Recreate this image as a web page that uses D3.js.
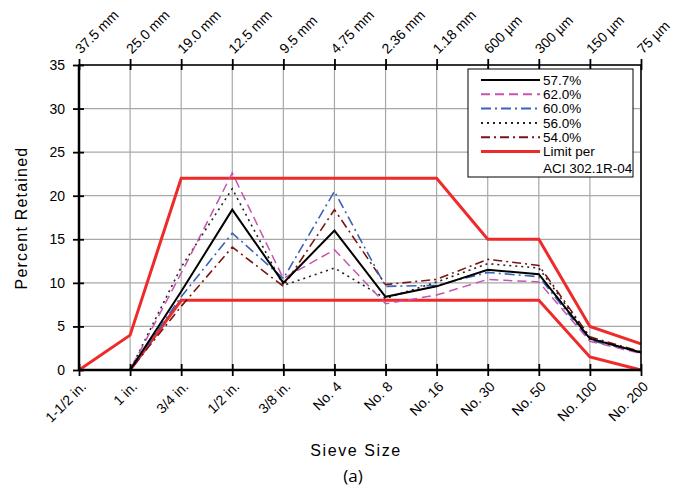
<!DOCTYPE html>
<html><head><meta charset="utf-8">
<script src="https://cdn.jsdelivr.net/npm/d3@7"></script>
<style>body{margin:0;background:#fff}svg{display:block}</style>
</head><body><svg id="c" width="680" height="491"></svg>
<script>
const sieveUS = ["1-1/2 in.","1 in.","3/4 in.","1/2 in.","3/8 in.","No. 4","No. 8","No. 16","No. 30","No. 50","No. 100","No. 200"];
const sieveSI = ["37.5 mm","25.0 mm","19.0 mm","12.5 mm","9.5 mm","4.75 mm","2.36 mm","1.18 mm","600 µm","300 µm","150 µm","75 µm"];
const yTicks = [0,5,10,15,20,25,30,35];
const s577 = [0,0,9.0,18.4,10.0,16.0,8.4,9.6,11.5,11.0,3.6,2.0];
const s620 = [0,0,11.1,22.6,10.5,13.8,7.6,8.6,10.4,10.1,3.3,1.9];
const s600 = [0,0,8.4,15.7,10.5,20.5,9.6,9.7,11.2,10.7,3.4,2.0];
const s560 = [0,0,11.8,20.8,9.7,11.7,8.2,10.1,12.2,11.7,3.7,2.0];
const s540 = [0,0,7.3,14.1,9.6,18.4,9.8,10.4,12.7,12.0,3.8,2.1];
const upperLimit = [0,4,22,22,22,22,22,22,15,15,5,3];
const lowerLimit = [null,0,8,8,8,8,8,8,8,8,1.5,0];
const seriesNames = ["57.7%","62.0%","60.0%","56.0%","54.0%"];

const series = [
  {name:seriesNames[0], values:s577, color:"#000000", dash:null, w:2},
  {name:seriesNames[1], values:s620, color:"#c455b0", dash:"9,5", w:1.5},
  {name:seriesNames[2], values:s600, color:"#3a62b8", dash:"10,4,2,4", w:1.6},
  {name:seriesNames[3], values:s560, color:"#222222", dash:"2,4", w:1.6},
  {name:seriesNames[4], values:s540, color:"#7a1414", dash:"9,4,2,4", w:1.6}
];

const svg = d3.select("#c");
const L=79, R=641, T=65, B=370;
const x = d3.scalePoint().domain(sieveUS).range([L,R]);
const y = d3.scaleLinear().domain([0,35]).range([B,T]);
const font = "'Liberation Sans', Arial, sans-serif";

// grid
svg.append("g").selectAll("line").data(sieveUS).join("line")
  .attr("x1",d=>x(d)).attr("x2",d=>x(d)).attr("y1",T).attr("y2",B)
  .attr("stroke","#a8a8a8").attr("stroke-width",1.2);
svg.append("g").selectAll("line").data(yTicks).join("line")
  .attr("x1",L).attr("x2",R).attr("y1",d=>y(d)).attr("y2",d=>y(d))
  .attr("stroke","#a8a8a8").attr("stroke-width",1.2);

// limits
const lineGen = d3.line().defined(d=>d!=null).x((d,i)=>x(sieveUS[i])).y(d=>y(d));
[upperLimit, lowerLimit].forEach(v=>{
  svg.append("path").datum(v).attr("d", lineGen).attr("fill","none")
    .attr("stroke","#ee2a2a").attr("stroke-width",3).attr("stroke-linejoin","miter");
});

// series (draw in reverse so black solid on top)
series.slice().reverse().forEach(s=>{
  svg.append("path").datum(s.values).attr("d", lineGen).attr("fill","none")
    .attr("stroke",s.color).attr("stroke-width",s.w)
    .attr("stroke-dasharray",s.dash);
});

// frame
svg.append("rect").attr("x",L).attr("y",T).attr("width",R-L).attr("height",B-T)
  .attr("fill","none").attr("stroke","#000").attr("stroke-width",1.5);
svg.append("line").attr("x1",L).attr("x2",R).attr("y1",B).attr("y2",B).attr("stroke","#000").attr("stroke-width",2.5);
svg.append("line").attr("x1",L).attr("x2",L).attr("y1",T).attr("y2",B).attr("stroke","#000").attr("stroke-width",2.5);

// axes
const gl = svg.append("g").attr("transform",`translate(${L},0)`)
  .call(d3.axisLeft(y).tickValues(yTicks).tickSize(6).tickPadding(8));
const gb = svg.append("g").attr("transform",`translate(0,${B})`)
  .call(d3.axisBottom(x).tickSize(6).tickPadding(4));
const gt = svg.append("g").attr("transform",`translate(0,${T})`)
  .call(d3.axisTop(x).tickFormat((d,i)=>sieveSI[i]).tickSize(6).tickPadding(4));
[gl,gb,gt].forEach(g=>{
  g.select(".domain").remove();
  g.selectAll(".tick line").attr("stroke","#000").attr("stroke-width",1.8);
  g.selectAll("text").attr("font-family",font).attr("font-size",14).attr("fill","#000");
});
gl.selectAll(".tick line").attr("x1",5).attr("x2",-6);
gb.selectAll(".tick line").attr("y1",-6).attr("y2",6);
gt.selectAll(".tick line").attr("y1",5).attr("y2",-6);
gb.selectAll("text").attr("text-anchor","end").attr("dy","0.35em")
  .attr("transform","translate(4,14) rotate(-45)").attr("y",0).attr("x",0);
gt.selectAll("text").attr("text-anchor","start").attr("dy","0.35em")
  .attr("transform","translate(-2,-14) rotate(-45)").attr("y",0).attr("x",0);

// axis titles
svg.append("text").attr("transform","translate(27,218) rotate(-90)")
  .attr("text-anchor","middle").attr("font-family",font).attr("font-size",16)
  .attr("letter-spacing","1.2px").text("Percent Retained");
svg.append("text").attr("x",356).attr("y",456).attr("text-anchor","middle")
  .attr("font-family",font).attr("font-size",16).attr("letter-spacing","1.6px").text("Sieve Size");
svg.append("text").attr("x",353).attr("y",482).attr("text-anchor","middle")
  .attr("font-family","'Open Sans', sans-serif").attr("font-size",17).text("(a)");

// legend
const lg = svg.append("g");
lg.append("rect").attr("x",468).attr("y",69).attr("width",165).attr("height",108)
  .attr("fill","#fff").attr("stroke","#000").attr("stroke-width",1);
const legItems = series.map(s=>({label:s.name,color:s.color,dash:s.dash,w:s.w}))
  .concat([{label:"Limit per",color:"#ee2a2a",dash:null,w:3}]);
legItems.forEach((d,i)=>{
  const yy = 80 + i*14.3;
  lg.append("line").attr("x1",481).attr("x2",540).attr("y1",yy).attr("y2",yy)
    .attr("stroke",d.color).attr("stroke-width",Math.max(d.w,2)).attr("stroke-dasharray",d.dash);
  lg.append("text").attr("x",543).attr("y",yy).attr("dy","0.35em")
    .attr("font-family",font).attr("font-size",13.5).text(d.label);
});
lg.append("text").attr("x",543).attr("y",80+6*14.3+2).attr("dy","0.35em")
  .attr("font-family",font).attr("font-size",13.5).text("ACI 302.1R-04");
</script></body></html>
